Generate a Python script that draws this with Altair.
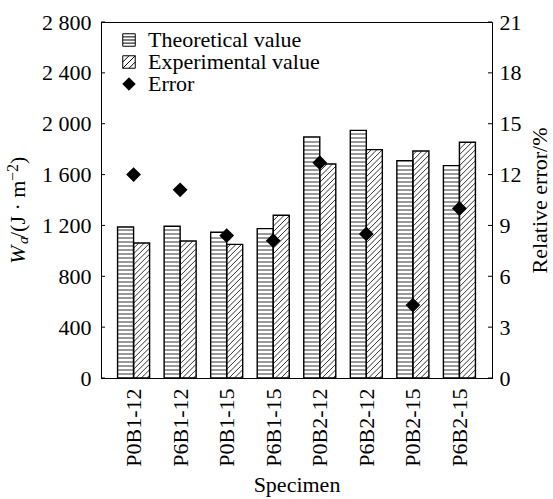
import json

import altair as alt
import pandas as pd

# ---- data -----------------------------------------------------------------
specimens = ["P0B1-12", "P6B1-12", "P0B1-15", "P6B1-15",
             "P0B2-12", "P6B2-12", "P0B2-15", "P6B2-15"]
theoretical = [1188, 1193, 1146, 1175, 1895, 1948, 1709, 1670]   # J/m^2
experimental = [1062, 1077, 1051, 1280, 1683, 1796, 1785, 1854]  # J/m^2
rel_error = [12.0, 11.1, 8.4, 8.1, 12.7, 8.5, 4.3, 10.0]         # %

series_names = ["Theoretical value", "Experimental value", "Error"]
wa_ticks = [0, 400, 800, 1200, 1600, 2000, 2400, 2800]
err_ticks = [0, 3, 6, 9, 12, 15, 18, 21]

# ---- layout / style -------------------------------------------------------
W, H = 391, 356
X_DOMAIN = [-0.7, 7.7]
BAR = 0.344            # width of one bar, in group units
FONT = "Liberation Serif"
FS = 22
INK = "black"
HATCH = "#333333"

px_x = W / (X_DOMAIN[1] - X_DOMAIN[0])
px_y = H / wa_ticks[-1]

# ---- tables built from the arrays -----------------------------------------
bar_rows = []
for i, s in enumerate(specimens):
    bar_rows.append({"specimen": s, "series": series_names[0],
                     "x0": i - BAR, "x1": i, "value": theoretical[i]})
    bar_rows.append({"specimen": s, "series": series_names[1],
                     "x0": i, "x1": i + BAR, "value": experimental[i]})
bars = pd.DataFrame(bar_rows)

# horizontal hatching for theoretical bars (every 4 px)
h_step = 4 / px_y
h_rows = []
for i, v in enumerate(theoretical):
    k = 1
    while k * h_step < v - 0.5 * h_step:
        h_rows.append({"x0": i - BAR, "x1": i, "y": k * h_step})
        k += 1
hatch_h = pd.DataFrame(h_rows)

# 45-degree hatching for experimental bars (every 5.5 px)
d_step = 5.5
d_rows = []
for i, v in enumerate(experimental):
    wpx, hpx = BAR * px_x, v * px_y
    c = -wpx + d_step / 2
    while c < hpx:
        xs, xe = max(0.0, -c), min(wpx, hpx - c)
        if xe > xs:
            d_rows.append({"xa": i + xs / px_x, "ya": (xs + c) / px_y,
                           "xb": i + xe / px_x, "yb": (xe + c) / px_y})
        c += d_step
hatch_d = pd.DataFrame(d_rows)

err_df = pd.DataFrame({"idx": list(range(len(specimens))),
                       "err": rel_error,
                       "series": [series_names[2]] * len(specimens)})

# ---- legend symbols (unit square paths) -----------------------------------
box = "M-1,-1H1V1H-1Z"
sym_theo = box + "M-1,-0.5H1M-1,0H1M-1,0.5H1"
sym_exp = box + "M-1,0L0,-1M-1,1L1,-1M0,1L1,0"
sym_err = "M-1,0L0,-1L1,0L0,1Z"

# ---- scales / axes ---------------------------------------------------------
xscale = alt.Scale(domain=X_DOMAIN, nice=False, zero=False)
yscale = alt.Scale(domain=[wa_ticks[0], wa_ticks[-1]], nice=False)
escale = alt.Scale(domain=[err_ticks[0], err_ticks[-1]], nice=False)

xaxis = alt.Axis(values=list(range(len(specimens))),
                 labelExpr=json.dumps(specimens) + "[datum.value]",
                 labelAngle=270, labelAlign="right", labelBaseline="middle",
                 labelPadding=10, ticks=False, grid=False,
                 title="Specimen", titlePadding=8)
yaxis = alt.Axis(values=wa_ticks,
                 labelExpr="replace(format(datum.value, ','), ',', ' ')",
                 labelPadding=10, ticks=False, grid=False, title=" ")
eaxis = alt.Axis(orient="right", values=err_ticks, labelPadding=7,
                 ticks=False, grid=False, title="Relative error/%",
                 titleAngle=270, titlePadding=30)

# ---- left (W_a) layers -----------------------------------------------------
bar_fill = alt.Chart(bars).mark_rect(fill="white").encode(
    x=alt.X("x0:Q", scale=xscale, axis=xaxis),
    x2="x1:Q",
    y=alt.Y("value:Q", scale=yscale, axis=yaxis),
    y2=alt.Y2(datum=0),
)
lines_h = alt.Chart(hatch_h).mark_rule(color=HATCH, strokeWidth=1).encode(
    x=alt.X("x0:Q", scale=xscale), x2="x1:Q",
    y=alt.Y("y:Q", scale=yscale),
)
lines_d = alt.Chart(hatch_d).mark_rule(color=HATCH, strokeWidth=1).encode(
    x=alt.X("xa:Q", scale=xscale), x2="xb:Q",
    y=alt.Y("ya:Q", scale=yscale), y2="yb:Q",
)
bar_edge = alt.Chart(bars).mark_rect(fillOpacity=0, stroke=INK, strokeWidth=1.4).encode(
    x=alt.X("x0:Q", scale=xscale), x2="x1:Q",
    y=alt.Y("value:Q", scale=yscale), y2=alt.Y2(datum=0),
)
ticks_left = alt.Chart(pd.DataFrame({"v": wa_ticks})).mark_rule(color=INK).encode(
    y=alt.Y("v:Q", scale=yscale),
    x=alt.value(0), x2=alt.value(4),
)


def title_piece(text, x, y, size=FS, style="normal"):
    return alt.Chart(alt.Data(values=[{}])).mark_text(
        text=text, font=FONT, fontSize=size, fontStyle=style, color=INK,
        angle=270, align="left", baseline="alphabetic",
    ).encode(x=alt.value(x), y=alt.value(y))


ytitle = [
    title_piece("W", -76, 242, style="italic"),
    title_piece("a", -73, 222, size=15, style="italic"),
    title_piece("/(J \u00b7 m", -76, 216),
    title_piece("\u22122", -83, 159, size=16),
    title_piece(")", -76, 142),
]

left = alt.layer(bar_fill, lines_h, lines_d, bar_edge, ticks_left, *ytitle)

# ---- right (relative error) layers ----------------------------------------
legend = alt.Legend(orient="none", legendX=17, legendY=7, title=None,
                    symbolSize=156, symbolStrokeWidth=1,
                    labelFont=FONT, labelFontSize=FS, labelColor=INK,
                    labelOffset=8, rowPadding=0, padding=0, labelLimit=400)

points = alt.Chart(err_df).mark_point(filled=True, size=144, opacity=1).encode(
    x=alt.X("idx:Q", scale=xscale),
    y=alt.Y("err:Q", scale=escale, axis=eaxis),
    shape=alt.Shape("series:N", legend=legend,
                    scale=alt.Scale(domain=series_names,
                                    range=[sym_theo, sym_exp, sym_err])),
    fill=alt.Fill("series:N", legend=legend,
                  scale=alt.Scale(domain=series_names,
                                  range=["white", "white", INK])),
    stroke=alt.Stroke("series:N", legend=legend,
                      scale=alt.Scale(domain=series_names,
                                      range=[INK, INK, INK])),
)
ticks_right = alt.Chart(pd.DataFrame({"v": err_ticks})).mark_rule(color=INK).encode(
    y=alt.Y("v:Q", scale=escale),
    x=alt.value(W - 4), x2=alt.value(W),
)

right = alt.layer(points, ticks_right)

chart = (
    alt.layer(left, right)
    .resolve_scale(y="independent")
    .properties(
        width=W, height=H,
        autosize=alt.AutoSizeParams(type="none"),
        padding={"left": 101, "top": 22, "right": 553 - 101 - W,
                 "bottom": 499 - 22 - H},
        background="white",
    )
    .configure_view(stroke=INK, strokeWidth=1)
    .configure_axis(
        domainColor=INK, domainWidth=1,
        labelFont=FONT, labelFontSize=FS, labelColor=INK,
        titleFont=FONT, titleFontSize=FS, titleColor=INK,
        titleFontWeight="normal",
    )
)

chart.save("out.html", embed_options={"renderer": "svg", "actions": False})
